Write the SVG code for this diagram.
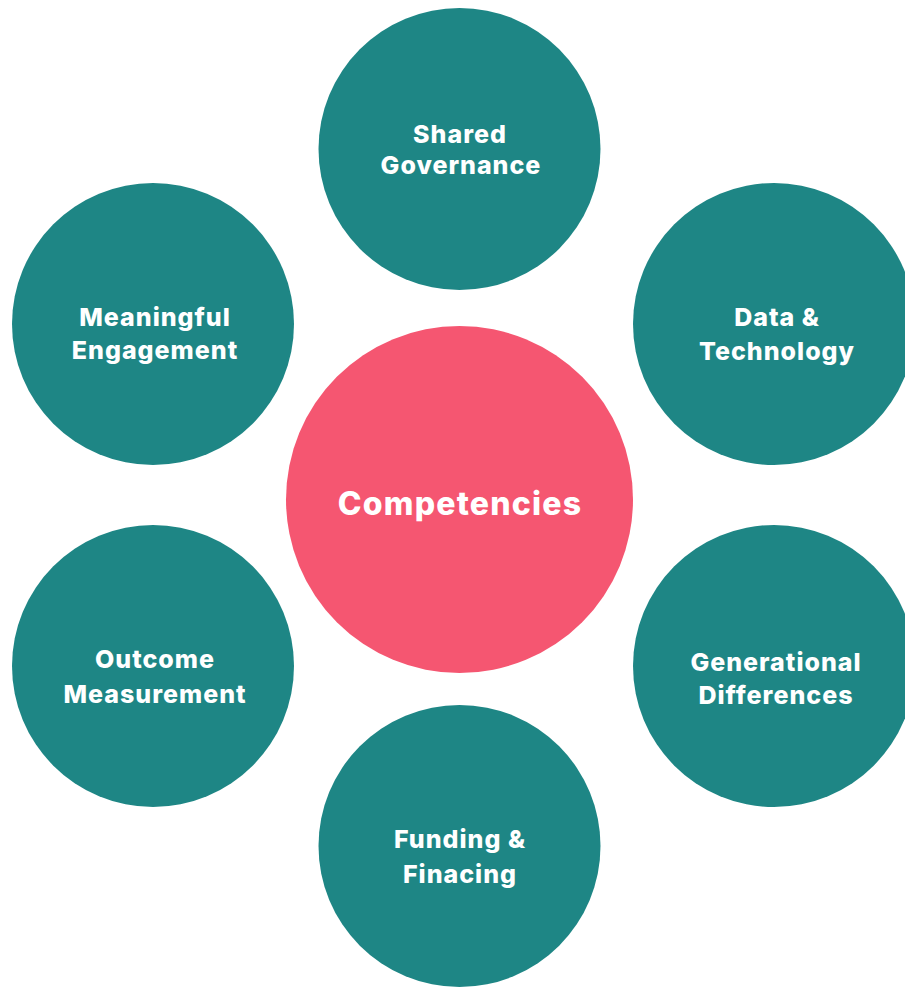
<svg xmlns="http://www.w3.org/2000/svg" width="905" height="987" viewBox="0 0 905 987">
  <style>
    .bg { fill: #ffffff; }
    .topic { fill: #1e8685; }
    .core { fill: #f55671; }
    .label { font-family: Inter, "Liberation Sans", sans-serif; font-weight: 800; fill: #ffffff; text-anchor: middle; }
    .small { font-size: 25px; letter-spacing: 1px; }
    .big { font-size: 32px; letter-spacing: 1.2px; }
  </style>
  <rect class="bg" x="0" y="0" width="905" height="987"/>
  <!-- no connecting lines in this diagram -->
  <g id="connectors"/>
  <g id="shared-governance">
    <circle class="topic" cx="459.5" cy="149" r="141"/>
    <text class="label small" x="460" y="143">Shared</text>
    <text class="label small" x="461" y="174">Governance</text>
  </g>
  <g id="meaningful-engagement">
    <circle class="topic" cx="153" cy="324" r="141"/>
    <text class="label small" x="155" y="326">Meaningful</text>
    <text class="label small" x="155" y="359">Engagement</text>
  </g>
  <g id="data-technology">
    <circle class="topic" cx="774" cy="324" r="141"/>
    <text class="label small" x="777" y="326">Data &amp;</text>
    <text class="label small" x="777" y="360">Technology</text>
  </g>
  <g id="competencies">
    <circle class="core" cx="459.5" cy="499.5" r="173.5"/>
    <text class="label big" x="460" y="515">Competencies</text>
  </g>
  <g id="outcome-measurement">
    <circle class="topic" cx="153" cy="666" r="141"/>
    <text class="label small" x="155" y="668">Outcome</text>
    <text class="label small" x="155" y="703">Measurement</text>
  </g>
  <g id="generational-differences">
    <circle class="topic" cx="774" cy="666" r="141"/>
    <text class="label small" x="776" y="671">Generational</text>
    <text class="label small" x="776" y="704">Differences</text>
  </g>
  <g id="funding-financing">
    <circle class="topic" cx="459.5" cy="846" r="141"/>
    <text class="label small" x="460" y="848">Funding &amp;</text>
    <text class="label small" x="460" y="883">Finacing</text>
  </g>
</svg>
